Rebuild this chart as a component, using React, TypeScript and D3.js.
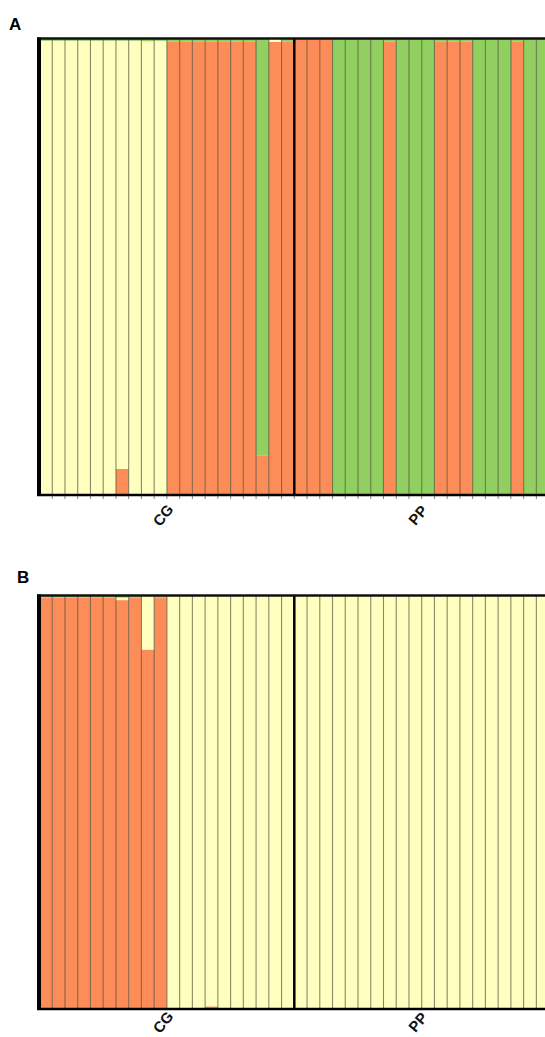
import React from "react";
import * as d3 from "d3";

// Panel A: ancestry proportions per individual (bottom -> top: orange, yellow, green)
const aOrange = [0, 0, 0, 0, 0, 0, 0.055, 0, 0, 0, 0.995, 0.995, 0.995, 0.995, 0.995, 0.995, 0.995, 0.085, 0.994, 0.995, 1, 1, 1, 0, 0, 0, 0, 0.995, 0, 0, 0, 0.995, 0.995, 0.995, 0, 0, 0, 0.995, 0, 0];
const aYellow = [0.996, 0.996, 0.996, 0.996, 0.996, 0.996, 0.941, 0.996, 0.995, 0.996, 0, 0, 0, 0, 0, 0, 0, 0, 0.006, 0, 0, 0, 0, 0, 0, 0, 0, 0, 0, 0, 0, 0, 0, 0, 0, 0, 0, 0, 0, 0];
const aGreen = [0.004, 0.004, 0.004, 0.004, 0.004, 0.004, 0.004, 0.004, 0.005, 0.004, 0.005, 0.005, 0.005, 0.005, 0.005, 0.005, 0.005, 0.915, 0, 0.005, 0, 0, 0, 1, 1, 1, 1, 0.005, 1, 1, 1, 0.005, 0.005, 0.005, 1, 1, 1, 0.005, 1, 1];

// Panel B
const bOrange = [0.996, 0.996, 0.996, 0.996, 0.996, 0.996, 0.99, 0.996, 0.87, 0.996, 0, 0, 0, 0.004, 0, 0, 0, 0, 0, 0, 0, 0, 0, 0, 0, 0, 0, 0, 0, 0, 0, 0, 0, 0, 0, 0, 0, 0, 0, 0];
const bYellow = [0, 0, 0, 0, 0, 0, 0.006, 0, 0.13, 0, 1, 1, 1, 0.996, 1, 1, 1, 1, 1, 1, 1, 1, 1, 1, 1, 1, 1, 1, 1, 1, 1, 1, 1, 1, 1, 1, 1, 1, 1, 1];
const bGreen = [0.004, 0.004, 0.004, 0.004, 0.004, 0.004, 0.004, 0.004, 0, 0.004, 0, 0, 0, 0, 0, 0, 0, 0, 0, 0, 0, 0, 0, 0, 0, 0, 0, 0, 0, 0, 0, 0, 0, 0, 0, 0, 0, 0, 0, 0];

const groups = ["CG", "PP"];
const groupSize = [20, 20];
const clusterKeys = ["orange", "yellow", "green"];
const clusterColors = ["#fc8d59", "#ffffbf", "#91cf60"];

const W = 545;
const H = 1037;

type PanelProps = {
  letter: string;
  letterX: number;
  letterY: number;
  top: number;
  bottom: number;
  orange: number[];
  yellow: number[];
  green: number[];
  ticks: boolean;
  labelY: number;
};

const x = d3
  .scaleBand<number>()
  .domain(d3.range(40))
  .range([39.5, 39.5 + 40 * 12.74])
  .padding(0);

function Panel(p: PanelProps) {
  const y = d3.scaleLinear().domain([0, 1]).range([p.bottom, p.top]);
  const rows = p.orange.map((o, i) => ({ i, orange: o, yellow: p.yellow[i], green: p.green[i] }));
  const stack = d3.stack<any>().keys(clusterKeys)(rows);
  const bw = x.bandwidth();
  const groupEdges: number[] = [];
  let acc = 0;
  groupSize.forEach((g) => {
    acc += g;
    groupEdges.push(acc);
  });
  const groupCenters = groupSize.map((g, k) => {
    const start = k === 0 ? 0 : groupEdges[k - 1];
    return (x(start)! + x(start)! + g * bw) / 2;
  });
  return (
    <g>
      <text x={p.letterX} y={p.letterY} fontFamily="Liberation Sans, Arial, sans-serif" fontWeight="bold" fontSize={17}>
        {p.letter}
      </text>
      {stack.map((layer, li) => (
        <g key={li}>
          {layer.map((d, i) =>
            d[1] - d[0] > 0 ? (
              <rect
                key={i}
                x={x(i)!}
                width={bw}
                y={y(d[1])}
                height={y(d[0]) - y(d[1])}
                fill={clusterColors[li]}
              />
            ) : null
          )}
        </g>
      ))}
      {d3.range(1, 40).map((i) => (
        <line
          key={i}
          x1={x(i)!}
          x2={x(i)!}
          y1={p.top}
          y2={p.bottom}
          stroke="#4a4a30"
          strokeOpacity={0.65}
          strokeWidth={1.1}
        />
      ))}
      {p.ticks &&
        d3.range(1, 40).map((i) => (
          <line key={"t" + i} x1={x(i)!} x2={x(i)!} y1={p.bottom} y2={p.bottom + 5} stroke="#666" strokeWidth={0.8} />
        ))}
      <line x1={x(groupEdges[0])!} x2={x(groupEdges[0])!} y1={p.top - 1} y2={p.bottom + 1} stroke="#000" strokeWidth={2.5} />
      <line x1={37} x2={W} y1={p.top - 0.5} y2={p.top - 0.5} stroke="#111" strokeWidth={2.5} />
      <line x1={37} x2={W} y1={p.bottom + 1} y2={p.bottom + 1} stroke="#000" strokeWidth={2.5} />
      <line x1={39} x2={39} y1={p.top - 1.5} y2={p.bottom + 2} stroke="#000" strokeWidth={4} />
      {groups.map((g, k) => (
        <text
          key={g}
          transform={`translate(${groupCenters[k] - 4},${p.labelY}) rotate(-50)`}
          textAnchor="middle"
          dominantBaseline="central"
          fontFamily="Liberation Sans, Arial, sans-serif"
          fontWeight="bold"
          fontSize={15}
          fill="#111"
        >
          {g}
        </text>
      ))}
    </g>
  );
}

export default function App() {
  return (
    <svg
      width={W}
      height={H}
      viewBox={`0 0 ${W} ${H}`}
      style={{ position: "absolute", left: 0, top: 0, background: "#fff" }}
    >
      <rect width={W} height={H} fill="#fff" />
      <Panel
        letter="A"
        letterX={9}
        letterY={30}
        top={39}
        bottom={494}
        orange={aOrange}
        yellow={aYellow}
        green={aGreen}
        ticks={true}
        labelY={515}
      />
      <Panel
        letter="B"
        letterX={17}
        letterY={583}
        top={596}
        bottom={1008}
        orange={bOrange}
        yellow={bYellow}
        green={bGreen}
        ticks={false}
        labelY={1022}
      />
    </svg>
  );
}
